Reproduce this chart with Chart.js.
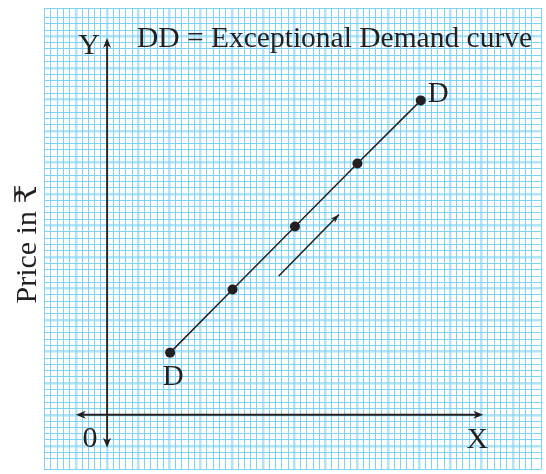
<!DOCTYPE html>
<html>
<head>
<meta charset="utf-8">
<script src="https://cdn.jsdelivr.net/npm/chart.js@4"></script>
<style>
    html, body { margin: 0; padding: 0; background: #fff; }
    #wrap { width: 546px; height: 474px; }
</style>
</head>
<body>
<div id="wrap"><canvas id="demandChart" width="546" height="474"></canvas></div>
<script>
// Exceptional demand curve DD (graph units, origin at the axes)
const demandX = [2.02, 4.02, 6.02, 8.02, 10.05];
const demandY = [1.97, 3.97, 5.97, 7.97, 9.97];

// small direction arrow beside the curve
const arrowX = [5.5, 7.43];
const arrowY = [4.4, 6.35];

// extent of the drawn X / Y axes
const axisXRange = [-1, 12.05];
const axisYRange = [-1.05, 11.95];

const titleText = 'DD = Exceptional Demand curve';
const yAxisTitle = 'Price in \u20B9';
const curveLabel = 'D';

const INK = '#231f20';
const SERIF = '"Liberation Serif", "DejaVu Serif", serif';

function toPoints(xs, ys) {
    return xs.map((x, i) => ({ x: x, y: ys[i] }));
}

function arrowHead(ctx, x, y, angle, len, width) {
    const dx = Math.cos(angle), dy = Math.sin(angle);
    const px = -dy, py = dx;
    ctx.beginPath();
    ctx.moveTo(x, y);
    ctx.lineTo(x - dx * len + px * width / 2, y - dy * len + py * width / 2);
    ctx.lineTo(x - dx * len * 0.7, y - dy * len * 0.7);
    ctx.lineTo(x - dx * len - px * width / 2, y - dy * len - py * width / 2);
    ctx.closePath();
    ctx.fill();
}

const paperPlugin = {
    id: 'paper',
    beforeDraw(chart) {
        const c = chart.ctx;
        c.save();
        c.fillStyle = '#ffffff';
        c.fillRect(0, 0, chart.width, chart.height);
        c.restore();
    },
    afterDatasetsDraw(chart) {
        const c = chart.ctx;
        const xs = chart.scales.x, ys = chart.scales.y;
        const ox = xs.getPixelForValue(0), oy = ys.getPixelForValue(0);
        c.save();
        c.strokeStyle = INK;
        c.fillStyle = INK;
        c.lineWidth = 1.8;

        // axes
        const xl = xs.getPixelForValue(axisXRange[0]), xr = xs.getPixelForValue(axisXRange[1]);
        const yb = ys.getPixelForValue(axisYRange[0]), yt = ys.getPixelForValue(axisYRange[1]);
        c.beginPath();
        c.moveTo(xl + 4, oy); c.lineTo(xr - 4, oy);
        c.moveTo(ox, yb - 4); c.lineTo(ox, yt + 4);
        c.stroke();
        arrowHead(c, xl, oy, Math.PI, 10, 8);
        arrowHead(c, xr, oy, 0, 10, 8);
        arrowHead(c, ox, yt, -Math.PI / 2, 10, 8);
        arrowHead(c, ox, yb, Math.PI / 2, 10, 8);

        // head of the direction arrow
        const meta = chart.getDatasetMeta(1).data;
        const a = meta[0], b = meta[1];
        arrowHead(c, b.x, b.y, Math.atan2(b.y - a.y, b.x - a.x), 9, 6);

        // text
        c.textBaseline = 'alphabetic';
        c.font = '29.5px ' + SERIF;
        c.textAlign = 'left';
        c.fillText(titleText, 137, 47);

        c.font = '30px ' + SERIF;
        c.textAlign = 'center';
        c.fillText('Y', ox - 18, 54);
        c.fillText('X', xr - 6, 448);
        c.fillText('0', ox - 17, 447);

        const pts = chart.getDatasetMeta(0).data;
        const first = pts[0], last = pts[pts.length - 1];
        c.font = '29px ' + SERIF;
        c.fillText(curveLabel, first.x + 3, first.y + 32);
        c.textAlign = 'left';
        c.fillText(curveLabel, last.x + 7, last.y + 2);

        c.translate(36, 244);
        c.rotate(-Math.PI / 2);
        c.textAlign = 'center';
        c.font = '30px ' + SERIF;
        c.fillText(yAxisTitle, 0, 0);
        c.restore();
    }
};

function isMajor(ctx) {
    const v = ctx.tick ? ctx.tick.value : 0;
    return Math.abs(v - Math.round(v)) < 1e-6;
}
function gridColor(ctx) {
    return isMajor(ctx) ? 'rgba(125, 210, 245, 0.6)' : 'rgb(125, 210, 245)';
}
function gridWidth(ctx) {
    return isMajor(ctx) ? 2.5 : 1;
}

document.addEventListener('DOMContentLoaded', () => {
    if (typeof Chart === 'undefined') {
        console.error('Chart.js not loaded!');
        return;
    }
    const ctx = document.getElementById('demandChart').getContext('2d');

    new Chart(ctx, {
        type: 'scatter',
        data: {
            datasets: [
                {
                    label: 'DD',
                    data: toPoints(demandX, demandY),
                    showLine: true,
                    borderColor: INK,
                    borderWidth: 1.5,
                    pointRadius: 5,
                    pointBackgroundColor: INK,
                    pointBorderColor: INK,
                    pointBorderWidth: 0
                },
                {
                    label: 'direction',
                    data: toPoints(arrowX, arrowY),
                    showLine: true,
                    borderColor: INK,
                    borderWidth: 1.5,
                    pointRadius: 0
                }
            ]
        },
        options: {
            responsive: false,
            animation: false,
            devicePixelRatio: 1,
            layout: { padding: { left: 44, right: 0, top: 8, bottom: 2 } },
            plugins: {
                legend: { display: false },
                tooltip: { enabled: false },
                title: { display: false }
            },
            scales: {
                x: {
                    type: 'linear',
                    min: -2.02,
                    max: 13.9,
                    border: { display: false },
                    ticks: { display: false, stepSize: 0.2 },
                    grid: { drawTicks: false, color: gridColor, lineWidth: gridWidth }
                },
                y: {
                    type: 'linear',
                    min: -1.72,
                    max: 12.9,
                    border: { display: false },
                    ticks: { display: false, stepSize: 0.2 },
                    grid: { drawTicks: false, color: gridColor, lineWidth: gridWidth }
                }
            }
        },
        plugins: [paperPlugin]
    });
});
</script>
</body>
</html>
